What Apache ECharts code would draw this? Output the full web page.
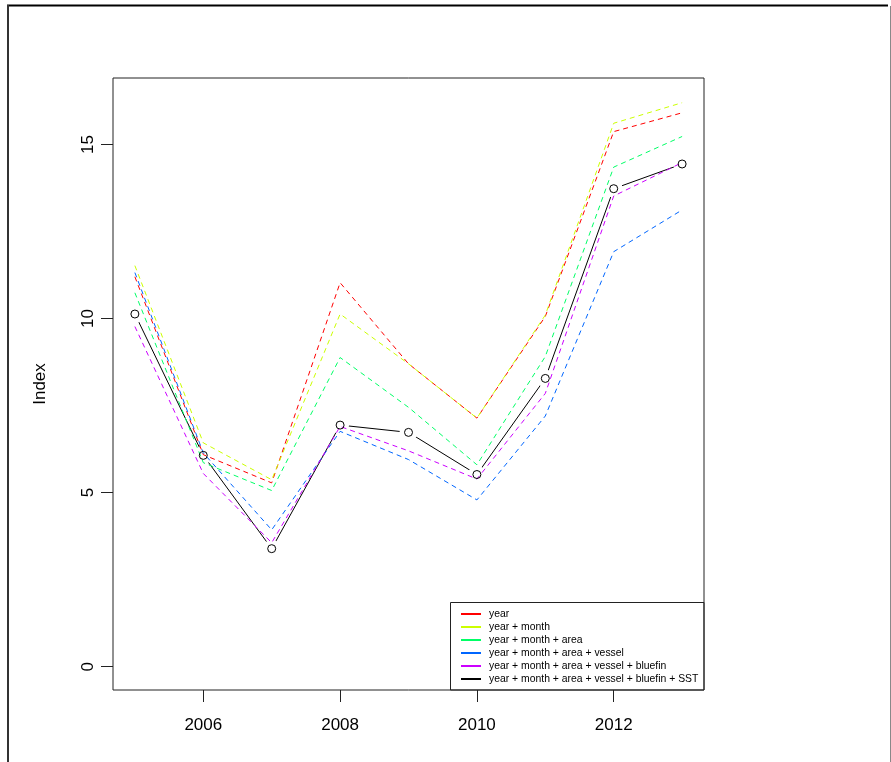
<!DOCTYPE html>
<html>
<head>
<meta charset="utf-8">
<script src="https://cdn.jsdelivr.net/npm/echarts@6/dist/echarts.min.js"></script>
<style>
html,body{margin:0;padding:0;background:#fff;}
#chart{width:891px;height:762px;}
</style>
</head>
<body>
<div id="chart"></div>
<script>
var years = [2005, 2006, 2007, 2008, 2009, 2010, 2011, 2012, 2013];
var xTicks = [2006, 2008, 2010, 2012];
var yTicks = [0, 5, 10, 15];
var seriesNames = [
  'year',
  'year + month',
  'year + month + area',
  'year + month + area + vessel',
  'year + month + area + vessel + bluefin',
  'year + month + area + vessel + bluefin + SST'
];
var seriesColors = ['#FF0000', '#CCFF00', '#00FF66', '#0066FF', '#CC00FF', '#000000'];
var vYear    = [11.20, 6.09, 5.28, 11.03, 8.70, 7.14, 10.06, 15.37, 15.91];
var vMonth   = [11.52, 6.43, 5.37, 10.13, 8.70, 7.14, 10.10, 15.61, 16.20];
var vArea    = [10.74, 5.86, 5.06, 8.88, 7.45, 5.80, 8.91, 14.35, 15.23];
var vVessel  = [11.32, 6.14, 3.93, 6.76, 5.95, 4.79, 7.20, 11.92, 13.12];
var vBluefin = [9.77, 5.55, 3.56, 6.90, 6.20, 5.39, 7.85, 13.52, 14.48];
var vSST     = [10.13, 6.07, 3.39, 6.94, 6.73, 5.52, 8.28, 13.73, 14.44];

var allValues = [vYear, vMonth, vArea, vVessel, vBluefin, vSST];
function pairs(vals) { return years.map(function (y, i) { return [y, vals[i]]; }); }

var FONT = 'Liberation Sans, Arial, sans-serif';
var series = [];
for (var k = 0; k < 5; k++) {
  series.push({
    name: seriesNames[k], type: 'line', data: pairs(allValues[k]),
    symbol: 'none', z: 3,
    lineStyle: { color: seriesColors[k], width: 1, type: [5, 4] },
    itemStyle: { color: seriesColors[k] }
  });
}
// black series: line, gap disks, open circles (R type="b")
series.push({
  name: seriesNames[5], type: 'line', data: pairs(vSST), symbol: 'none', z: 1,
  lineStyle: { color: '#000', width: 1 }, itemStyle: { color: '#000' }
});
series.push({
  type: 'scatter', data: pairs(vSST), symbol: 'circle', symbolSize: 18, z: 2,
  itemStyle: { color: '#fff', opacity: 1 }, silent: true
});
series.push({
  type: 'scatter', data: pairs(vSST), symbol: 'circle', symbolSize: 8, z: 4,
  itemStyle: { color: 'rgba(255,255,255,0)', borderColor: '#000', borderWidth: 1, opacity: 1 }, silent: true
});

var chart = echarts.init(document.getElementById('chart'), null, { renderer: 'canvas' });
chart.setOption({
  animation: false,
  backgroundColor: '#fff',
  textStyle: { fontFamily: FONT },
  grid: { left: 113, top: 78, width: 591, height: 612, show: true, borderColor: '#222', borderWidth: 1, backgroundColor: 'transparent' },
  xAxis: {
    type: 'value', min: 2004.68, max: 2013.32,
    axisLine: { show: false, onZero: false },
    splitLine: { show: false },
    axisTick: { show: true, customValues: xTicks, length: 12, lineStyle: { color: '#222' } },
    axisLabel: { customValues: xTicks, fontSize: 17, color: '#000', fontFamily: FONT, margin: 27,
      formatter: function (v) { return String(Math.round(v)); } }
  },
  yAxis: {
    type: 'value', min: -0.67, max: 16.91,
    name: 'Index', nameLocation: 'middle', nameGap: 64,
    nameTextStyle: { fontSize: 17, color: '#000', fontFamily: FONT },
    axisLine: { show: false, onZero: false },
    splitLine: { show: false },
    axisTick: { show: true, customValues: yTicks, length: 12, lineStyle: { color: '#222' } },
    axisLabel: { customValues: yTicks, fontSize: 17, color: '#000', fontFamily: FONT, rotate: 90, margin: 16 }
  },
  legend: {
    orient: 'vertical', left: 461, top: 608, z: 20, padding: 0,
    itemWidth: 20, itemHeight: 2, itemGap: 1, icon: 'rect',
    data: seriesNames,
    textStyle: { fontSize: 10.4, color: '#000', fontFamily: FONT, lineHeight: 12, padding: [0, 0, 0, 3] },
    selectedMode: false
  },
  graphic: [
    { type: 'rect', shape: { x: 450.5, y: 602.5, width: 253.5, height: 87.5 }, style: { fill: 'none', stroke: '#222', lineWidth: 1 }, z: 5, silent: true },
    { type: 'line', shape: { x1: 7, y1: 5.5, x2: 888, y2: 5.5 }, style: { stroke: '#000', lineWidth: 2 }, silent: true },
    { type: 'line', shape: { x1: 8, y1: 5, x2: 8, y2: 762 }, style: { stroke: '#333', lineWidth: 2 }, silent: true },
    { type: 'line', shape: { x1: 890.5, y1: 6, x2: 890.5, y2: 762 }, style: { stroke: '#888', lineWidth: 1 }, silent: true }
  ],
  series: series
});
</script>
</body>
</html>
